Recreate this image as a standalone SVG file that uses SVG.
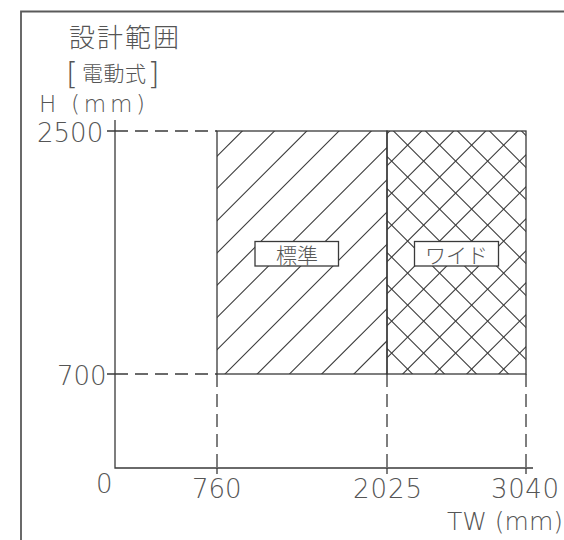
<svg xmlns="http://www.w3.org/2000/svg" width="564" height="540" viewBox="0 0 564 540">
<style>
.frame{fill:none;stroke:#5a5a5a;stroke-width:1.8}
.ln{stroke:#3a3a3a;stroke-width:1.3;fill:none}
.dash{stroke:#3a3a3a;stroke-width:1.3;fill:none;stroke-dasharray:13 7}
.h{stroke:#3a3a3a;stroke-width:1.1}
.t{fill:#555;font-family:"DejaVu Sans","Noto Sans",sans-serif;font-weight:200}
.j{fill:#555;font-family:"Noto Sans CJK JP",sans-serif;font-weight:300}
.box{fill:#fff;stroke:#3a3a3a;stroke-width:1.3}
</style>
<defs>
<clipPath id="cStd"><rect x="217" y="131" width="170" height="243"/></clipPath>
<clipPath id="cWide"><rect x="387" y="131" width="139" height="243"/></clipPath>
</defs>
<rect width="564" height="540" fill="#fff"/>
<path class="frame" d="M21,545 V11.5 H570"/>

<g id="title">
<text class="j" x="69" y="47" font-size="26" letter-spacing="2">設計範囲</text>
<text class="t" x="66" y="84" font-size="31">[</text>
<text class="j" x="82" y="81" font-size="21" letter-spacing="0.5">電動式</text>
<text class="t" x="147.5" y="84" font-size="31">]</text>
</g>

<g id="axes">
<path class="ln" d="M115,120 V468 H533"/>
<path class="ln" d="M107,131 H115 M107,374 H115 M217,468 V474 M387,468 V474 M526,468 V474"/>
<text class="t" x="39" y="112" font-size="23" textLength="106">H (mm)</text>
<text class="t" x="37" y="142" font-size="26">2500</text>
<text class="t" x="57" y="385" font-size="26">700</text>
<text class="t" x="96" y="493" font-size="26">0</text>
<text class="t" x="192" y="498" font-size="26">760</text>
<text class="t" x="353" y="498" font-size="26" textLength="69">2025</text>
<text class="t" x="491" y="498" font-size="26" textLength="68">3040</text>
<text class="t" x="447" y="530" font-size="25" textLength="116">TW (mm)</text>
</g>

<g id="connectors">
<path class="dash" d="M115,131 H217 M115,374 H217 M217,374 V468 M387,374 V468 M526,374 V468"/>
</g>

<g id="std-region">
<g clip-path="url(#cStd)" class="h">
<line x1="273.3" y1="100" x2="-26.7" y2="400"/>
<line x1="305.5" y1="100" x2="5.5" y2="400"/>
<line x1="337.8" y1="100" x2="37.8" y2="400"/>
<line x1="370" y1="100" x2="70" y2="400"/>
<line x1="402.3" y1="100" x2="102.3" y2="400"/>
<line x1="434.5" y1="100" x2="134.5" y2="400"/>
<line x1="466.7" y1="100" x2="166.7" y2="400"/>
<line x1="499" y1="100" x2="199" y2="400"/>
<line x1="531.2" y1="100" x2="231.2" y2="400"/>
<line x1="563.5" y1="100" x2="263.5" y2="400"/>
<line x1="595.7" y1="100" x2="295.7" y2="400"/>
<line x1="627.9" y1="100" x2="327.9" y2="400"/>
<line x1="660.2" y1="100" x2="360.2" y2="400"/>
</g>
<rect class="ln" x="217" y="131" width="170" height="243"/>
<rect class="box" x="255" y="241.5" width="83.5" height="24.5"/>
<text class="j" x="297" y="263" font-size="21" text-anchor="middle" textLength="42">標準</text>
</g>

<g id="wide-region">
<g clip-path="url(#cWide)" class="h">
<line x1="420.7" y1="100" x2="120.7" y2="400"/>
<line x1="452.7" y1="100" x2="152.7" y2="400"/>
<line x1="484.7" y1="100" x2="184.7" y2="400"/>
<line x1="516.7" y1="100" x2="216.7" y2="400"/>
<line x1="548.7" y1="100" x2="248.7" y2="400"/>
<line x1="580.7" y1="100" x2="280.7" y2="400"/>
<line x1="612.7" y1="100" x2="312.7" y2="400"/>
<line x1="644.7" y1="100" x2="344.7" y2="400"/>
<line x1="676.7" y1="100" x2="376.7" y2="400"/>
<line x1="708.7" y1="100" x2="408.7" y2="400"/>
<line x1="740.7" y1="100" x2="440.7" y2="400"/>
<line x1="772.7" y1="100" x2="472.7" y2="400"/>
<line x1="138.5" y1="100" x2="438.5" y2="400"/>
<line x1="170.5" y1="100" x2="470.5" y2="400"/>
<line x1="202.5" y1="100" x2="502.5" y2="400"/>
<line x1="234.5" y1="100" x2="534.5" y2="400"/>
<line x1="266.5" y1="100" x2="566.5" y2="400"/>
<line x1="298.5" y1="100" x2="598.5" y2="400"/>
<line x1="330.5" y1="100" x2="630.5" y2="400"/>
<line x1="362.5" y1="100" x2="662.5" y2="400"/>
<line x1="394.5" y1="100" x2="694.5" y2="400"/>
<line x1="426.5" y1="100" x2="726.5" y2="400"/>
<line x1="458.5" y1="100" x2="758.5" y2="400"/>
<line x1="490.5" y1="100" x2="790.5" y2="400"/>
</g>
<rect class="ln" x="387" y="131" width="139" height="243"/>
<rect class="box" x="414.5" y="241.5" width="84" height="24.5"/>
<text class="j" x="456.5" y="263" font-size="21" text-anchor="middle" textLength="63">ワイド</text>
</g>
</svg>
